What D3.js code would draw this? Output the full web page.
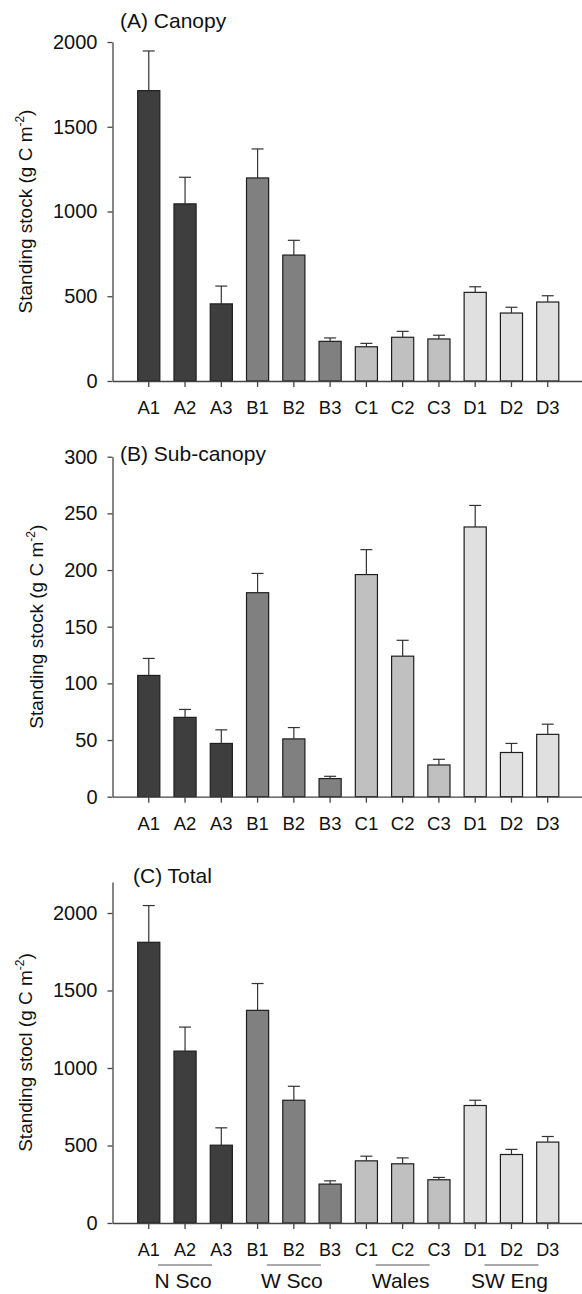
<!DOCTYPE html>
<html>
<head>
<meta charset="utf-8">
<title>Standing stock</title>
<script src="https://cdnjs.cloudflare.com/ajax/libs/d3/7.8.5/d3.min.js"></script>
<style>
  body { margin: 0; background: #fff; }
  text { font-family: "Liberation Sans", Arial, sans-serif; fill: #111; }
</style>
</head>
<body>
<script>
var sites = ["A1", "A2", "A3", "B1", "B2", "B3", "C1", "C2", "C3", "D1", "D2", "D3"];
var groupNames = ["N Sco", "W Sco", "Wales", "SW Eng"];
var groupColors = ["#3e3e3e", "#808080", "#c0c0c0", "#e0e0e0"];

var canopyMean = [1713, 1045, 455, 1198, 743, 234, 202, 258, 248, 523, 401, 466];
var canopyErr = [234, 157, 105, 171, 87, 20, 20, 35, 22, 33, 34, 37];
var canopyTicks = [0, 500, 1000, 1500, 2000];

var subMean = [107, 70, 47, 180, 51, 16, 196, 124, 28, 238, 39, 55];
var subErr = [15, 7, 12, 17, 10, 2, 22, 14, 5, 19, 8, 9];
var subTicks = [0, 50, 100, 150, 200, 250, 300];

var totalMean = [1811, 1109, 502, 1372, 792, 251, 401, 382, 279, 758, 442, 522];
var totalErr = [237, 155, 112, 173, 90, 21, 30, 38, 15, 34, 33, 36];
var totalTicks = [0, 500, 1000, 1500, 2000];

var W = 582, H = 1294;
var axisX = 112.5;

var svg = d3.select("body").append("svg")
    .attr("width", W)
    .attr("height", H);

var x = d3.scaleBand()
    .domain(sites)
    .range([axisX, 584])
    .paddingInner(0.39)
    .paddingOuter(0.695);

function panel(opts) {
    var y = d3.scaleLinear().domain(opts.domain).range([opts.bottom, opts.top]);
    var g = svg.append("g");

    // bars
    g.selectAll("rect.bar")
        .data(sites)
        .enter().append("rect")
        .attr("class", "bar")
        .attr("x", function(d) { return x(d); })
        .attr("width", x.bandwidth())
        .attr("y", function(d, i) { return y(opts.mean[i]); })
        .attr("height", function(d, i) { return y(0) - y(opts.mean[i]); })
        .attr("fill", function(d, i) { return groupColors[Math.floor(i / 3)]; })
        .attr("stroke", "#1e1e1e")
        .attr("stroke-width", 1.2);

    // error bars (upper only)
    var cx = function(d) { return x(d) + x.bandwidth() / 2; };
    g.selectAll("line.err")
        .data(sites)
        .enter().append("line")
        .attr("x1", cx).attr("x2", cx)
        .attr("y1", function(d, i) { return y(opts.mean[i]); })
        .attr("y2", function(d, i) { return y(opts.mean[i] + opts.err[i]); })
        .attr("stroke", "#333").attr("stroke-width", 1.2);
    g.selectAll("line.cap")
        .data(sites)
        .enter().append("line")
        .attr("x1", function(d) { return cx(d) - 6; })
        .attr("x2", function(d) { return cx(d) + 6; })
        .attr("y1", function(d, i) { return y(opts.mean[i] + opts.err[i]); })
        .attr("y2", function(d, i) { return y(opts.mean[i] + opts.err[i]); })
        .attr("stroke", "#333").attr("stroke-width", 1.2);

    // y axis
    var ya = g.append("g")
        .attr("transform", "translate(" + axisX + ",0)")
        .call(d3.axisLeft(y).tickValues(opts.ticks).tickFormat(d3.format("d"))
            .tickSize(5).tickSizeOuter(0).tickPadding(10));
    ya.selectAll("text").style("font-size", "20px").attr("fill", "#111");

    // x axis
    var xa = g.append("g")
        .attr("transform", "translate(0," + y(0) + ")")
        .call(d3.axisBottom(x).tickSize(6).tickSizeOuter(0).tickPadding(14));
    xa.selectAll("text").style("font-size", opts.xFont + "px").attr("fill", "#111");

    svg.selectAll(".domain, .tick line").attr("stroke", "#444").attr("stroke-width", 1.3);

    // panel title
    g.append("text")
        .attr("x", opts.titleX)
        .attr("y", opts.titleY)
        .style("font-size", "21px")
        .text(opts.title);

    // y label
    var lab = g.append("text")
        .attr("transform", "translate(" + opts.labelX + "," + ((opts.top + opts.bottom) / 2) + ") rotate(-90)")
        .attr("text-anchor", "middle")
        .style("font-size", "19px");
    lab.append("tspan").text(opts.label + " (g C m");
    lab.append("tspan").attr("dy", -8).style("font-size", "12px").text("-2");
    lab.append("tspan").attr("dy", 8).text(")");

    return y;
}

panel({
    mean: canopyMean, err: canopyErr, ticks: canopyTicks,
    domain: [0, 2000], top: 42, bottom: 381,
    title: "(A) Canopy", titleX: 120, titleY: 28,
    label: "Standing stock", labelX: 32, xFont: 18.5
});

panel({
    mean: subMean, err: subErr, ticks: subTicks,
    domain: [0, 300], top: 456.7, bottom: 796.7,
    title: "(B) Sub-canopy", titleX: 120, titleY: 461,
    label: "Standing stock", labelX: 43, xFont: 18.5
});

panel({
    mean: totalMean, err: totalErr, ticks: totalTicks,
    domain: [0, 2200], top: 882, bottom: 1223,
    title: "(C) Total", titleX: 133, titleY: 883,
    label: "Standing stocl", labelX: 32, xFont: 18
});

// group lines and labels under panel C
var groups = svg.append("g");
groupNames.forEach(function(name, gi) {
    var mid = sites[gi * 3 + 1];
    var c = x(mid) + x.bandwidth() / 2;
    groups.append("line")
        .attr("x1", c - 27).attr("x2", c + 27)
        .attr("y1", 1265).attr("y2", 1265)
        .attr("stroke", "#555").attr("stroke-width", 1.2);
    groups.append("text")
        .attr("x", c - 2)
        .attr("y", 1288)
        .attr("text-anchor", "middle")
        .style("font-size", "21px")
        .text(name);
});
</script>
</body>
</html>
